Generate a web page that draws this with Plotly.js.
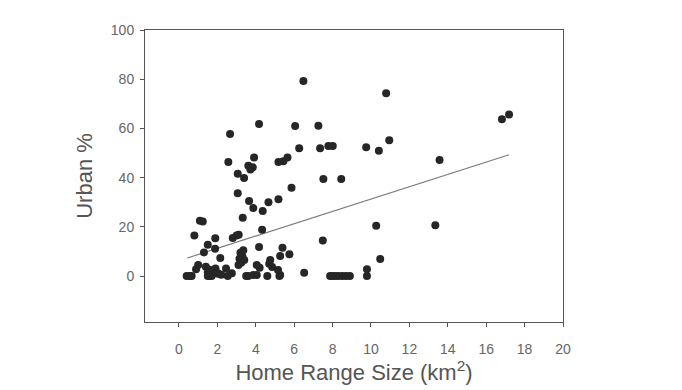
<!DOCTYPE html>
<html>
<head>
<meta charset="utf-8">
<script src="https://cdn.plot.ly/plotly-3.0.1.min.js"></script>
<style>html,body{margin:0;padding:0;background:#fff;}#chart{width:682px;height:390px;}</style>
</head>
<body>
<div id="chart"></div>
<script>
// Home range size (km^2) vs urban %
var homeRange = [
  6.48, 10.79, 17.19, 16.82, 4.17, 6.05, 7.26, 2.66, 10.95, 7.78, 8.01, 6.26, 7.35, 9.75, 10.41,
  3.91, 5.65, 5.44, 5.18, 2.57, 13.57, 3.61, 3.84, 3.72, 3.06, 3.39, 7.52, 8.45, 5.86, 3.06,
  3.65, 4.66, 5.18, 3.87, 4.36, 3.32, 1.09, 1.24, 4.33, 0.80, 2.80, 3.00, 3.11, 1.89, 7.49,
  10.27, 13.35, 1.50, 1.88, 1.30, 4.17, 5.39, 5.75, 5.27, 10.48, 2.15,
  3.20, 3.30, 3.15, 3.40, 3.25, 3.10, 3.35,
  1.00, 0.89, 1.40, 1.60, 1.75, 1.90, 2.00, 1.50, 2.45, 4.05, 4.20, 4.75, 4.70, 4.85, 5.16,
  5.27, 6.52, 9.79, 2.75, 2.05,
  0.40, 0.57, 0.66, 1.50, 1.60, 1.70, 2.20, 2.54, 3.50, 3.61, 3.87, 4.05, 4.60, 5.23,
  7.87, 8.00, 8.13, 8.30, 8.50, 8.70, 8.90, 9.79
];
var urbanPct = [
  79.3, 74.3, 65.7, 63.7, 61.8, 61.0, 61.1, 57.7, 55.2, 52.8, 52.8, 51.9, 51.9, 52.3, 50.9,
  48.2, 48.2, 46.6, 46.3, 46.3, 47.2, 44.8, 44.2, 43.3, 41.6, 39.8, 39.4, 39.4, 35.9, 33.6,
  30.5, 30.0, 31.2, 27.6, 26.4, 23.7, 22.5, 22.2, 18.8, 16.5, 15.4, 16.5, 16.8, 15.3, 14.4,
  20.4, 20.6, 12.7, 11.1, 9.6, 11.8, 11.5, 8.8, 8.1, 6.9, 7.3,
  9.5, 8.0, 7.0, 6.5, 5.5, 4.5, 10.5,
  4.5, 2.7, 3.8, 2.5, 1.5, 3.0, 1.0, 1.5, 3.0, 4.5, 3.4, 6.5, 5.0, 3.7, 2.4,
  0.4, 1.3, 2.7, 1.1, 1.0,
  0, 0, 0, 0, 0, 0, 0.5, 0, 0, 0, 0.4, 0.4, 0, 0,
  0, 0, 0, 0, 0, 0, 0, 0
];
// regression line end points
var fitX = [0.43, 17.19];
var fitY = [7.3, 49.3];
var xTicks = [0, 2, 4, 6, 8, 10, 12, 14, 16, 18, 20];
var yTicks = [0, 20, 40, 60, 80, 100];

var traces = [
  {x: fitX, y: fitY, type: 'scatter', mode: 'lines',
   line: {color: '#7a7a7a', width: 1.2}, hoverinfo: 'skip'},
  {x: homeRange, y: urbanPct, type: 'scatter', mode: 'markers',
   marker: {color: '#262626', size: 8, line: {width: 0}}}
];
var fontFam = 'Arial, "Liberation Sans", sans-serif';
var layout = {
  width: 682, height: 390,
  paper_bgcolor: '#ffffff', plot_bgcolor: '#ffffff',
  showlegend: false,
  margin: {l: 145, r: 119, t: 30, b: 68},
  font: {family: fontFam, color: '#555555'},
  xaxis: {
    range: [-1.77, 20], tickvals: xTicks, ticktext: xTicks.map(String),
    showgrid: false, zeroline: false, showline: true, mirror: true,
    linecolor: '#555555', linewidth: 1,
    ticks: 'outside', ticklen: 4, tickcolor: '#555555',
    tickfont: {size: 14, color: '#666666'},
    ticklabelstandoff: 10,
    title: {text: 'Home Range Size (km<sup>2</sup>)', font: {size: 22, color: '#555555'}, standoff: 4},
    automargin: false
  },
  yaxis: {
    range: [-18.7, 100], tickvals: yTicks, ticktext: yTicks.map(String),
    showgrid: false, zeroline: false, showline: true, mirror: true,
    linecolor: '#555555', linewidth: 1,
    ticks: 'outside', ticklen: 4, tickcolor: '#555555',
    tickfont: {size: 14, color: '#666666'},
    ticklabelstandoff: 3,
    title: {text: 'Urban %', font: {size: 22, color: '#555555'}, standoff: 12},
    automargin: false
  }
};
Plotly.newPlot('chart', traces, layout, {displayModeBar: false, staticPlot: true});
</script>
</body>
</html>
